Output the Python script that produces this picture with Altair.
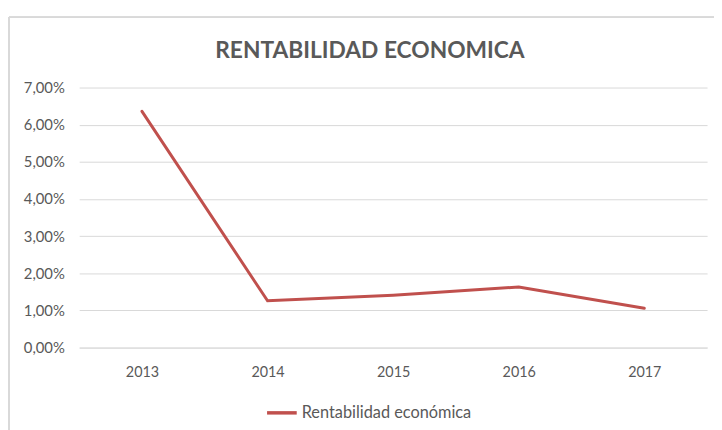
import altair as alt
import pandas as pd

years = ["2013", "2014", "2015", "2016", "2017"]
values = [0.0636, 0.0126, 0.0141, 0.0163, 0.0106]
series = ["Rentabilidad económica"] * 5
title_text = "RENTABILIDAD ECONOMICA"

df = pd.DataFrame({"Año": years, "valor": values, "serie": series})

FONT = "Lato"
GRAY = "#595959"
FRAME = "#d9d9d9"

line = alt.Chart(df).mark_line(strokeWidth=3, strokeCap="round").encode(
    x=alt.X("Año:N", scale=alt.Scale(type="point", padding=0.5),
            axis=alt.Axis(title=None, labelAngle=0, ticks=False, domain=True,
                          domainColor="#d9d9d9", labelPadding=18, labelFontSize=14.5,
                          labelColor=GRAY, labelFont=FONT)),
    y=alt.Y("valor:Q", scale=alt.Scale(domain=[0, 0.07]),
            axis=alt.Axis(title=None, values=[0, 0.01, 0.02, 0.03, 0.04, 0.05, 0.06, 0.07],
                          labelExpr="replace(format(datum.value, '.2%'), '.', ',')",
                          domain=False, ticks=False, grid=True, gridColor="#d9d9d9",
                          labelPadding=15, labelFontSize=15, labelColor=GRAY, labelFont=FONT)),
    color=alt.Color("serie:N", scale=alt.Scale(range=["#C0504D"]),
                    legend=alt.Legend(title=None, orient="none", legendX=188, legendY=312,
                                      symbolType="stroke",
                                      symbolSize=900, symbolStrokeWidth=3.5,
                                      labelFontSize=16.5, labelColor=GRAY, labelFont=FONT,
                                      labelOffset=3, labelLimit=400)),
)

frame_top = alt.Chart(df).mark_rule(color=FRAME, strokeWidth=1.5).encode(
    x=alt.value(-71), x2=alt.value(700), y=alt.value(-71))
frame_left = alt.Chart(df).mark_rule(color=FRAME, strokeWidth=1.5).encode(
    x=alt.value(-71), y=alt.value(-71), y2=alt.value(400))

title = alt.Chart(pd.DataFrame({"t": [title_text]})).mark_text(
    font=FONT, fontSize=23, fontWeight="bold", color=GRAY, baseline="alphabetic", align="center"
).encode(text="t:N", x=alt.value(294), y=alt.value(-30))

chart = alt.layer(frame_top, frame_left, title, line).properties(
    width=635, height=263,
    autosize=alt.AutoSizeParams(type="none"),
    padding={"left": 72, "top": 78, "right": 7, "bottom": 90},
).configure_view(stroke=None)

chart.save("out.html", embed_options={"renderer": "svg", "actions": False})
